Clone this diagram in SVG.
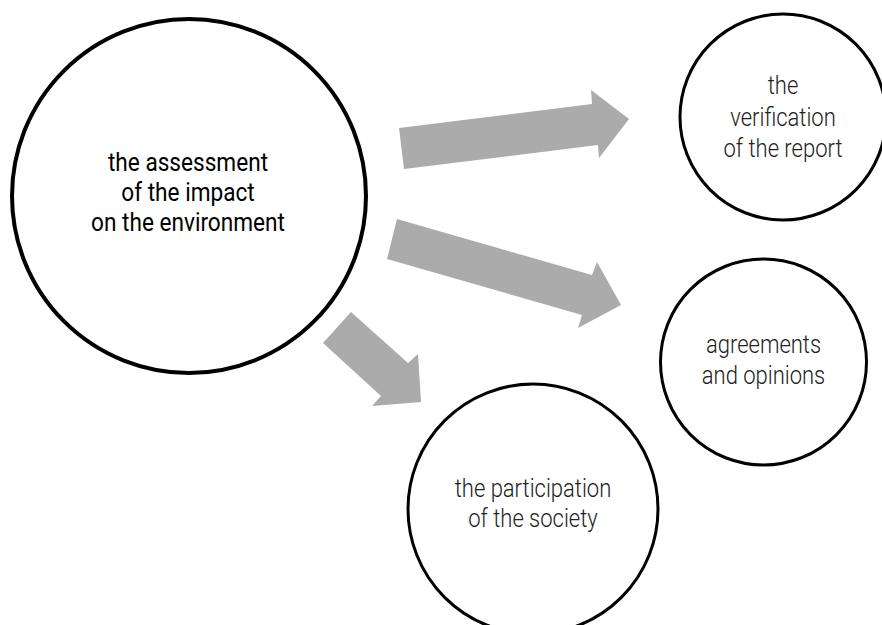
<svg xmlns="http://www.w3.org/2000/svg" width="882" height="625" viewBox="0 0 882 625">
<style>
.node{fill:#fff;stroke:#000}
.arrow{fill:#ababab}
.t{font-family:Roboto,"Liberation Sans",sans-serif;text-anchor:middle}
.main{font-size:26px;font-weight:400;fill:#000}
.sub{font-size:25px;font-weight:300;fill:#222}
</style>
<rect width="882" height="625" fill="#fff"/>
<g id="connectors">
<polygon class="arrow" points="399,128 592,104 591,90 629,119 599,158 598,145 404,169"/>
<polygon class="arrow" points="397,219 592,275 597,262 621,305 578,328 582,315 387,259"/>
<polygon class="arrow" points="351,312 408,363 418,354 421,402 372,406 381,396 323,343"/>
</g>
<g id="assessment">
<circle class="node" cx="189" cy="196" r="177" stroke-width="4"/>
<text class="t main" transform="translate(188,0) scale(0.87,1)"><tspan x="0" y="171">the assessment</tspan><tspan x="0" y="201">of the impact</tspan><tspan x="0" y="231">on the environment</tspan></text>
</g>
<g id="verification">
<circle class="node" cx="783" cy="117" r="103" stroke-width="3"/>
<text class="t sub" transform="translate(783,0) scale(0.88,1)"><tspan x="0" y="94">the</tspan><tspan x="0" y="126">verification</tspan><tspan x="0" y="157">of the report</tspan></text>
</g>
<g id="agreements">
<circle class="node" cx="763.5" cy="362" r="103" stroke-width="3"/>
<text class="t sub" transform="translate(763.5,0) scale(0.88,1)"><tspan x="0" y="353">agreements</tspan><tspan x="0" y="384">and opinions</tspan></text>
</g>
<g id="participation">
<circle class="node" cx="533" cy="509" r="125" stroke-width="3"/>
<text class="t sub" transform="translate(533,0) scale(0.88,1)"><tspan x="0" y="497">the participation</tspan><tspan x="0" y="527">of the society</tspan></text>
</g>
</svg>
